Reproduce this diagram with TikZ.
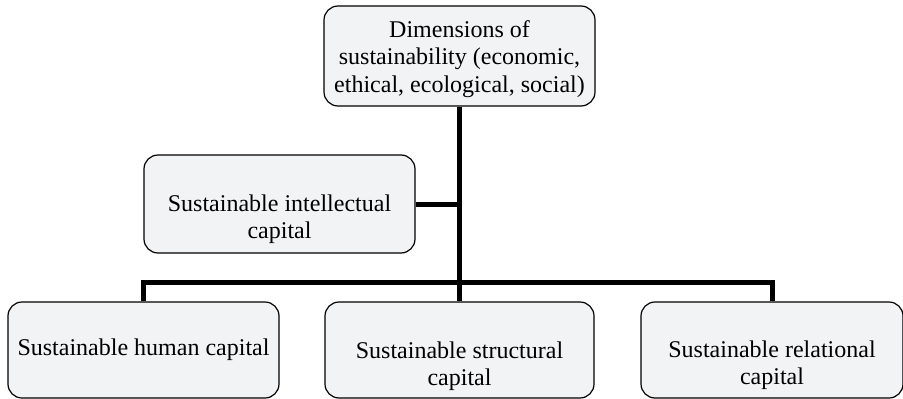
\documentclass[tikz,border=0pt]{standalone}
\usepackage{fontspec}
\setmainfont{Liberation Serif}
\definecolor{boxfill}{RGB}{242,243,245}
\tikzset{
  capbox/.style={draw=black, line width=1.2pt, fill=boxfill, rounded corners=14pt,
    minimum width=271pt, inner sep=0pt},
  captext/.style={inner sep=0pt, align=center, font=\fontsize{24}{27.5}\selectfont},
  conn/.style={draw=black, line width=5pt}
}
\begin{document}
\begin{tikzpicture}[x=1pt,y=-1pt]
\useasboundingbox (0,0) rectangle (903,399);
\node[capbox, minimum height=100pt] (top) at (459.5,56) {};
\node[captext] (toptext) at ([yshift=-3pt]top.center) {Dimensions of\\sustainability (economic,\\ethical, ecological, social)};
\node[capbox, minimum height=98pt] (intel) at (279.5,204) {};
\node[captext] (inteltext) at ([yshift=-15pt]intel.center) {Sustainable intellectual\\capital};
\node[capbox, minimum height=96pt] (human) at (143.5,350) {};
\node[captext] (humantext) at ([yshift=0pt]human.center) {Sustainable human capital};
\node[capbox, minimum height=96pt, minimum width=269pt] (struct) at (459.5,350) {};
\node[captext] (structtext) at ([yshift=-16pt]struct.center) {Sustainable structural\\capital};
\node[capbox, minimum height=96pt, minimum width=262pt] (rel) at (772,350) {};
\node[captext] (reltext) at ([yshift=-15pt]rel.center) {Sustainable relational\\capital};
\coordinate (jmid) at (459.5,282.5);
\coordinate (jint) at (459.5,204);
\draw[conn] (top.south) -- (struct.north);
\draw[conn] (intel.east) -- (jint);
\draw[conn] (human.north) |- (jmid) -| (rel.north);
\end{tikzpicture}
\end{document}
